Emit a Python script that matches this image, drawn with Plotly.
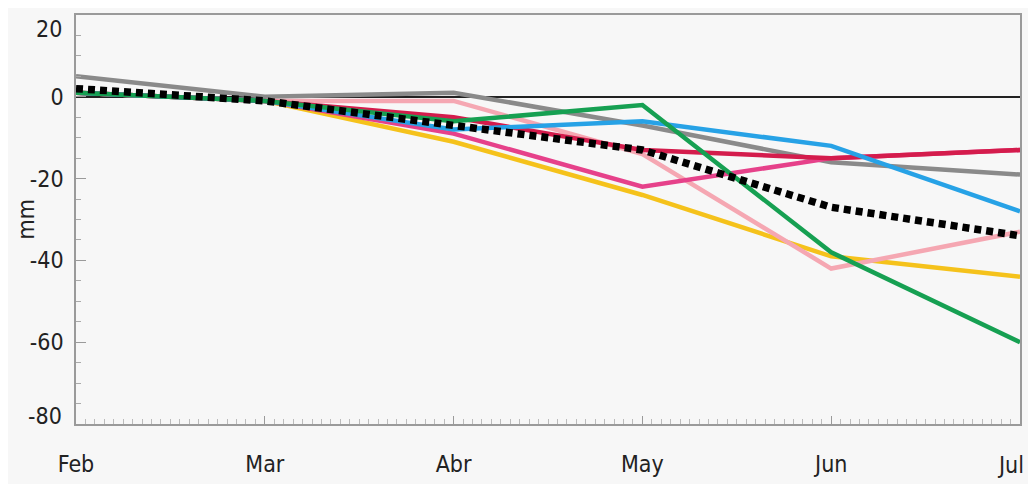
import plotly.graph_objects as go

months = ["Feb", "Mar", "Abr", "May", "Jun", "Jul"]
x_pos = [0, 1, 2, 3, 4, 5]
y_ticks = [-80, -60, -40, -20, 0, 20]
y_labels = ["-80", "-60", "-40", "-20", "0", "20"]

gray = [5, 0, 1, -7, -16, -19]
yellow = [1, -1, -11, -24, -39, -44]
light_pink = [1, -1, -1, -14, -42, -33]
magenta = [1, -1, -9, -22, -15, -13]
crimson = [1, -1, -5, -13, -15, -13]
blue = [1, -1, -8, -6, -12, -28]
green = [1, -1, -6, -2, -38, -60]
mean = [2, -1, -7, -13, -27, -34]

series = [
    ("gray", gray, "#8a8a8a"),
    ("yellow", yellow, "#f5c21b"),
    ("lightpink", light_pink, "#f5a7b2"),
    ("magenta", magenta, "#e6418a"),
    ("crimson", crimson, "#d41c4c"),
    ("blue", blue, "#27a2e6"),
    ("green", green, "#16a052"),
]

FONT = "DejaVu Sans Condensed, DejaVu Sans"

fig = go.Figure()
for name, vals, col in series:
    fig.add_trace(go.Scatter(x=x_pos, y=vals, mode="lines", name=name,
                             line=dict(color=col, width=4.5), showlegend=False))
fig.add_trace(go.Scatter(x=x_pos, y=mean, mode="lines", name="mean",
                         line=dict(color="black", width=7.5, dash="7px,5px"),
                         showlegend=False))

# inner tick labels drawn by the axis; end labels are nudged inward
axis_text = [t if v not in (y_ticks[0], y_ticks[-1]) else "" for v, t in zip(y_ticks, y_labels)]
x_axis_text = months[:-1] + [""]

fig.update_layout(
    width=1036, height=484,
    margin=dict(l=68, r=24, t=7, b=68),
    paper_bgcolor="#f7f7f7", plot_bgcolor="#f7f7f7",
    font=dict(family=FONT, size=23, color="#222"),
)
fig.update_xaxes(
    range=[0, 5], tickvals=x_pos, ticktext=x_axis_text, automargin=False,
    showgrid=False, zeroline=False,
    showline=True, mirror=True, linecolor="#9a9a9a", linewidth=1.5,
    ticks="inside", ticklen=8, tickcolor="#9a9a9a",
    minor=dict(dtick=0.05, ticks="inside", ticklen=5, tickcolor="#bbbbbb", showgrid=False),
    ticklabelstandoff=19,
)
fig.update_yaxes(
    range=[-80, 20], tickvals=y_ticks, ticktext=axis_text, automargin=False,
    showgrid=False, zeroline=True, zerolinecolor="#222", zerolinewidth=1.5,
    showline=True, mirror=True, linecolor="#9a9a9a", linewidth=1.5,
    ticks="inside", ticklen=10, tickcolor="#9a9a9a",
    minor=dict(dtick=5, ticks="inside", ticklen=5, tickcolor="#aaaaaa", showgrid=False),
    ticklabelstandoff=6,
)
fig.add_annotation(text=y_labels[-1], xref="paper", yref="paper", x=-0.0125, y=0.966,
                   xanchor="right", yanchor="middle", showarrow=False,
                   font=dict(family=FONT, size=23, color="#222"))
fig.add_annotation(text=y_labels[0], xref="paper", yref="paper", x=-0.0125, y=0.02,
                   xanchor="right", yanchor="middle", showarrow=False,
                   font=dict(family=FONT, size=23, color="#222"))
fig.add_annotation(text=months[-1], xref="paper", yref="paper", x=1.006, y=-0.10,
                   xanchor="right", yanchor="middle", showarrow=False,
                   font=dict(family=FONT, size=23, color="#222"))
fig.add_annotation(text="mm", xref="paper", yref="paper", x=-0.054, y=0.50,
                   xanchor="center", yanchor="middle", textangle=-90,
                   showarrow=False, font=dict(family=FONT, size=23, color="#222"))
fig.write_html("out.html")
